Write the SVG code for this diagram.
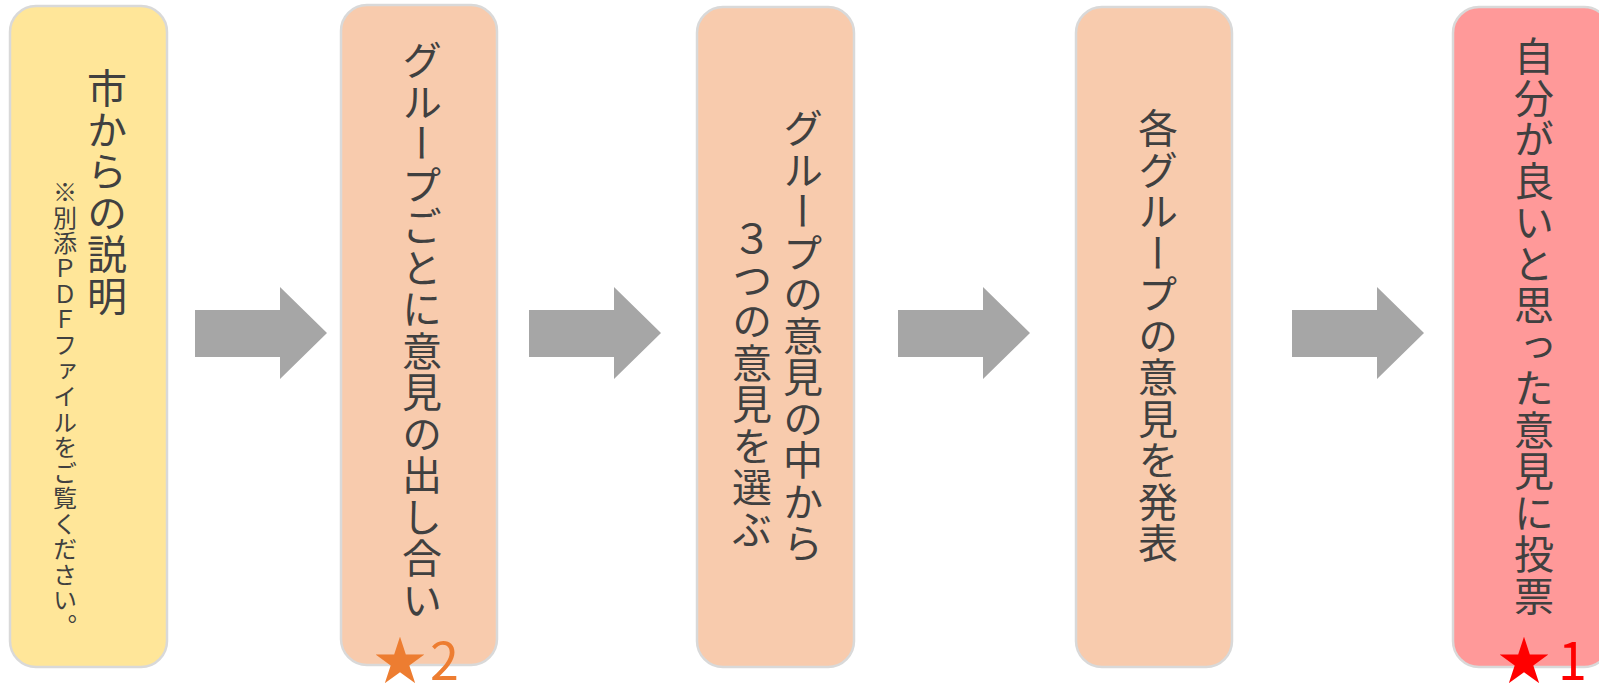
<svg xmlns="http://www.w3.org/2000/svg" width="1599" height="688" viewBox="0 0 1599 688">
<style>
.box{stroke:#D9D9D9;stroke-width:2.5}
.y{fill:#FFE699}
.p{fill:#F8CBAD}
.r{fill:#FF9999}
.v{font-family:"Noto Sans CJK JP","Noto Sans",sans-serif;fill:#404040;writing-mode:vertical-rl;text-orientation:upright;font-size:40px;letter-spacing:1.5px}
.s{font-size:24px;letter-spacing:1.5px}
.arrow{fill:#A6A6A6}
.star{font-family:"Noto Sans CJK JP","Noto Sans",sans-serif;font-size:52px}
</style>
<rect width="1599" height="688" fill="#FFFFFF"/>
<g id="connectors">
<polygon class="arrow" points="195,310 280,310 280,287 327,333 280,379 280,357 195,357"/>
<polygon class="arrow" points="529,310 614,310 614,287 661,333 614,379 614,357 529,357"/>
<polygon class="arrow" points="898,310 983,310 983,287 1030,333 983,379 983,357 898,357"/>
<polygon class="arrow" points="1292,310 1377,310 1377,287 1424,333 1377,379 1377,357 1292,357"/>
</g>
<g id="node1">
<rect class="box y" x="10" y="6" width="157" height="661" rx="26"/>
<text class="v" x="107" y="68">市からの説明</text>
<text class="v s" x="65" y="180">※別添ＰＤＦファイルをご覧ください。</text>
</g>
<g id="node2">
<rect class="box p" x="341" y="5" width="156" height="660" rx="26"/>
<text class="v" x="422" y="40">グループごとに意見の出し合い</text>
<text class="star" x="374" y="680" fill="#ED7D31">★<tspan x="430">2</tspan></text>
</g>
<g id="node3">
<rect class="box p" x="697" y="7" width="157" height="660" rx="26"/>
<text class="v" x="803" y="108">グループの意見の中から</text>
<text class="v" x="752" y="218">３つの意見を選ぶ</text>
</g>
<g id="node4">
<rect class="box p" x="1076" y="7" width="156" height="660" rx="26"/>
<text class="v" x="1158" y="108">各グループの意見を発表</text>
</g>
<g id="node5">
<rect class="box r" x="1453" y="7" width="157" height="660" rx="26"/>
<text class="v" x="1534" y="36">自分が良いと思った意見に投票</text>
<text class="star" x="1498" y="680" fill="#FF0000">★<tspan x="1558">1</tspan></text>
</g>
</svg>
